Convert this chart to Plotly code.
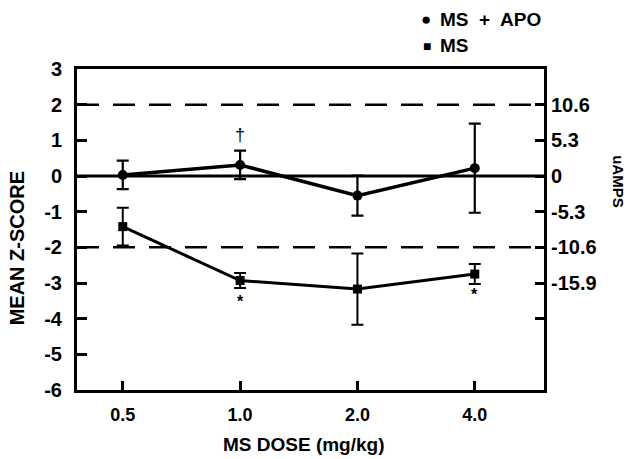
import plotly.graph_objects as go

doses = ["0.5", "1.0", "2.0", "4.0"]
xpos = [0, 1, 2, 3]
apo_mean = [0.03, 0.31, -0.55, 0.22]
apo_err = [0.40, 0.40, 0.56, 1.25]
ms_mean = [-1.42, -2.93, -3.17, -2.75]
ms_err = [0.53, 0.21, 1.0, 0.28]
left_ticks = [3, 2, 1, 0, -1, -2, -3, -4, -5, -6]
left_text = ["3", "2", "1", "0", "-1", "-2", "-3", "-4", "-5", "-6"]
right_vals = [2, 1, 0, -1, -2, -3, -4]
right_text = ["10.6", "5.3", "0", "-5.3", "-10.6", "-15.9", ""]

FONT = "Liberation Sans"
BLACK = "black"

def bold(size):
    return dict(family=FONT, size=size, color=BLACK, weight="bold")

fig = go.Figure()

# reference lines
for yv, dash in [(2, "dash"), (-2, "dash"), (0, "solid")]:
    fig.add_trace(go.Scatter(
        x=[-0.39, 3.59], y=[yv, yv], mode="lines",
        line=dict(color=BLACK, width=3 if yv == 0 else 2.5,
                  dash="22px,14px" if dash == "dash" else "solid"),
        hoverinfo="skip", showlegend=False))

fig.add_trace(go.Scatter(
    x=xpos, y=apo_mean, mode="lines+markers",
    line=dict(color=BLACK, width=3.5),
    marker=dict(symbol="circle", size=10, color=BLACK),
    error_y=dict(type="data", array=apo_err, color=BLACK, thickness=2.2, width=6),
    showlegend=False))

fig.add_trace(go.Scatter(
    x=xpos, y=ms_mean, mode="lines+markers",
    line=dict(color=BLACK, width=3),
    marker=dict(symbol="square", size=9, color=BLACK),
    error_y=dict(type="data", array=ms_err, color=BLACK, thickness=2, width=6),
    showlegend=False))

# dummy trace for right axis
fig.add_trace(go.Scatter(x=[0], y=[0], yaxis="y2", mode="markers",
                         marker=dict(opacity=0), hoverinfo="skip", showlegend=False))

fig.update_layout(
    width=629, height=459,
    margin=dict(l=77, r=85, t=69, b=69, autoexpand=False),
    plot_bgcolor="white", paper_bgcolor="white",
    font=dict(family=FONT, color=BLACK, size=16),
    xaxis=dict(
        range=[-0.39, 3.59], tickvals=xpos, ticktext=doses,
        ticks="inside", ticklen=9, tickwidth=2.5, tickcolor=BLACK,
        showline=True, linewidth=3, linecolor=BLACK, mirror=True,
        showgrid=False, zeroline=False, automargin=False,
        tickfont=bold(18), ticklabelstandoff=6,
    ),
    yaxis=dict(
        range=[-6, 3], tickvals=left_ticks, ticktext=left_text,
        ticks="inside", ticklen=10, tickwidth=2.5, tickcolor=BLACK,
        showline=True, linewidth=3, linecolor=BLACK, mirror=True,
        showgrid=False, zeroline=False, automargin=False,
        tickfont=bold(20), ticklabelstandoff=8,
    ),
    yaxis2=dict(
        range=[-6, 3], overlaying="y", side="right",
        tickvals=right_vals, ticktext=right_text,
        ticks="inside", ticklen=9, tickwidth=2.5, tickcolor=BLACK,
        showline=False, showgrid=False, zeroline=False, automargin=False,
        tickfont=bold(20), ticklabelstandoff=6,
    ),
    annotations=[
        dict(text="MS DOSE (mg/kg)", xref="paper", yref="paper", x=0.486, y=-0.171,
             xanchor="center", yanchor="middle", showarrow=False, font=bold(19)),
        dict(text="MEAN Z-SCORE", xref="paper", yref="paper", x=-0.128, y=0.442,
             xanchor="center", yanchor="middle", textangle=-90, showarrow=False,
             font=bold(20)),
        dict(text="uAMPS", xref="paper", yref="paper", x=1.158, y=0.648,
             xanchor="center", yanchor="middle", textangle=90, showarrow=False,
             font=bold(15)),
        dict(text="●", xref="paper", yref="paper", x=0.747, y=1.154,
             xanchor="center", yanchor="middle", showarrow=False, font=bold(17)),
        dict(text="MS  +  APO", xref="paper", yref="paper", x=0.773, y=1.154,
             xanchor="left", yanchor="middle", showarrow=False, font=bold(19)),
        dict(text="■", xref="paper", yref="paper", x=0.749, y=1.072,
             xanchor="center", yanchor="middle", showarrow=False, font=bold(14)),
        dict(text="MS", xref="paper", yref="paper", x=0.773, y=1.072,
             xanchor="left", yanchor="middle", showarrow=False, font=bold(19)),
        dict(text="†", x=1, y=1.15, xref="x", yref="y", showarrow=False,
             font=dict(family=FONT, size=18, color=BLACK)),
        dict(text="*", x=1, y=-3.52, xref="x", yref="y", showarrow=False, font=bold(16)),
        dict(text="*", x=3, y=-3.33, xref="x", yref="y", showarrow=False, font=bold(16)),
    ],
)

fig.write_html("out.html", config={"displayModeBar": False},
               post_script="document.body.style.margin='0';document.body.style.overflow='hidden';")
